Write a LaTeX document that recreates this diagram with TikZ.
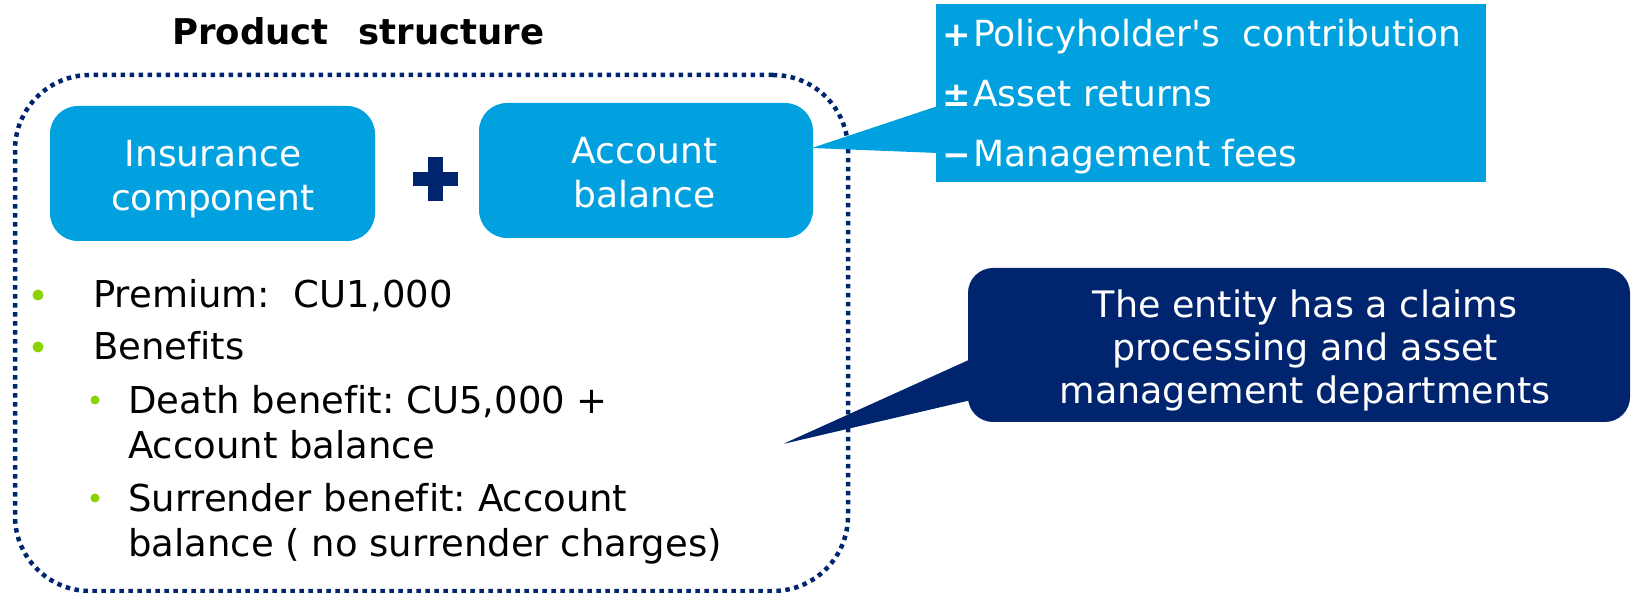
\documentclass[tikz,border=0pt]{standalone}
\usepackage{fontspec}
\setmainfont{DejaVu Sans}[Ligatures={TeXOff,NoCommon}]
\usetikzlibrary{calc}
\definecolor{lblue}{RGB}{0,161,222}
\definecolor{dblue}{RGB}{0,36,110}
\definecolor{bgreen}{RGB}{140,210,0}
\newcommand\bodyfont{\fontsize{36}{45}\selectfont}
\newcommand\listfont{\fontsize{37}{45}\selectfont}
\newcommand\signfont{\fontsize{34}{34}\selectfont\bfseries}
\begin{document}
\begin{tikzpicture}[x=1pt,y=-1pt,
  bluebox/.style={fill=lblue, rounded corners=28pt, inner sep=0, minimum height=135pt},
  boxtext/.style={text=white, font=\fontsize{36}{44}\selectfont, inner sep=0, anchor=north, align=center},
  listtext/.style={text=black, font=\listfont, inner sep=0, align=left},
  signline/.style={text=white, font=\bodyfont, inner sep=0, anchor=base west},
  frame/.style={draw=dblue, line width=4.5pt, dash pattern=on 4.5pt off 4.5pt, rounded corners=75pt, inner sep=0},
  bullet/.style={fill=bgreen}
]
\useasboundingbox (0,0) rectangle (1631,593);

% title
\node[inner sep=0, anchor=base west, font=\fontsize{35.5}{40}\selectfont\bfseries] (title) at (172,45) {Product\hspace{30pt}structure};

% dotted frame
\node[frame, minimum width=833pt, minimum height=516pt] (frame) at (431.5,333) {};

% boxes
\node[bluebox, minimum width=325pt] (ins) at (212.5,173.5) {};
\node[boxtext] (inst) at (213,139.8) {Insurance\\component};
\node[bluebox, minimum width=334pt] (acc) at (646,170.5) {};
\node[boxtext] (acct) at (644.5,136.8) {Account\\balance};

% plus sign
\fill[dblue] (413,172) rectangle (458,186);
\fill[dblue] (428,157) rectangle (443,201);

% light blue callout
\node[fill=lblue, minimum width=550pt, minimum height=178pt, inner sep=0] (cb1) at (1211,93) {};
\coordinate (tip1) at (812,148);
\fill[lblue] (tip1) -- ([xshift=2pt,yshift=-13pt]cb1.west) -- ([xshift=2pt,yshift=-60pt]cb1.west) -- cycle;
\node[signline] (c1) at (942,47) {\makebox[31pt][l]{\signfont +}Policyholder's\ \ contribution};
\node[signline] (c2) at (942,107) {\makebox[31pt][l]{\signfont ±}Asset returns};
\node[signline] (c3) at (942,167) {\makebox[31pt][l]{\signfont −}Management fees};

% dark callout
\node[fill=dblue, rounded corners=25pt, minimum width=662pt, minimum height=154pt, inner sep=0] (cb2) at (1299,345) {};
\coordinate (tip2) at (783,444);
\fill[dblue, rounded corners=1.5pt] (tip2) -- ([xshift=12pt,yshift=-10pt]cb2.west) -- ([xshift=12pt,yshift=-53pt]cb2.west) -- cycle;
\node[anchor=north, text=white, align=center, font=\fontsize{36.5}{43}\selectfont, inner sep=0] (cb2t) at (1305,290) {The entity has a claims\\processing and asset\\management departments};

% bullet list
\fill[bullet] (38,295) circle (5.5pt);
\fill[bullet] (38,347) circle (5.5pt);
\fill[bullet] (95,400) circle (4.5pt);
\fill[bullet] (95,498) circle (4.5pt);
\node[listtext, anchor=base west] (l1) at (93,308) {Premium:\ \ CU1,000};
\node[listtext, anchor=base west] (l2) at (93,360) {Benefits};
\node[listtext, anchor=north west] (l3) at (128,385) {Death benefit:\ CU5,000 +\\Account balance};
\node[listtext, anchor=north west] (l4) at (128,483) {Surrender benefit:\ Account\\balance ( no surrender charges)};
\end{tikzpicture}
\end{document}
